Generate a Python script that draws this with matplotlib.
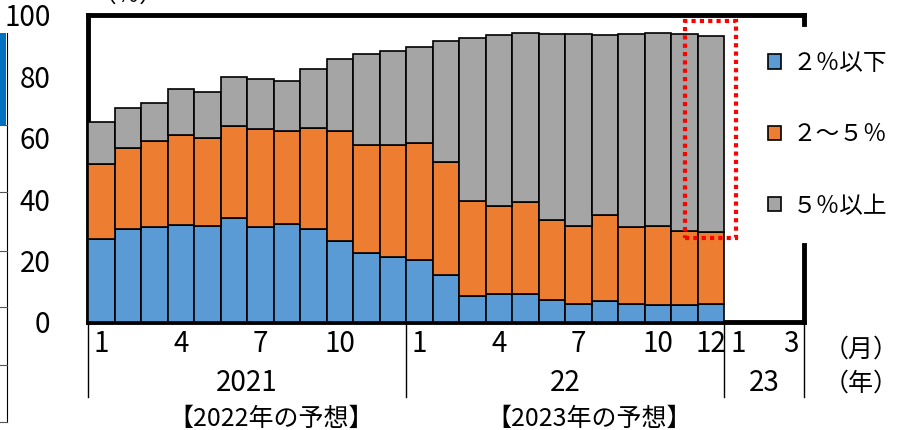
import matplotlib
matplotlib.use('Agg')
import matplotlib.pyplot as plt
import numpy as np
from matplotlib.patches import Patch, Rectangle
from matplotlib.lines import Line2D
import matplotlib.transforms as mtransforms

plt.rcParams['font.family'] = ['Liberation Sans Narrow', 'Noto Sans CJK JP', 'DejaVu Sans']

# 2021/1 - 2022/12 (%)
low_share = [27.0, 30.2, 30.8, 31.6, 31.4, 34.0, 30.8, 31.8, 30.4, 26.4, 22.5, 21.3,
             20.1, 15.2, 8.4, 9.1, 9.1, 7.0, 5.9, 6.8, 5.9, 5.5, 5.5, 5.8]
mid_share = [24.4, 26.6, 28.0, 29.3, 28.5, 29.9, 31.9, 30.5, 32.9, 35.8, 35.1, 36.2,
             38.1, 36.8, 31.1, 28.7, 30.0, 26.2, 25.4, 28.2, 25.1, 25.8, 24.2, 23.5]
high_share = [13.8, 12.8, 12.4, 15.0, 14.9, 15.9, 16.4, 16.2, 19.1, 23.6, 29.8, 30.9,
              31.4, 39.6, 53.1, 55.7, 55.1, 60.7, 62.5, 58.5, 62.8, 62.8, 64.1, 64.0]
series_names = ['２％以下', '２～５％', '５％以上']
colors = ['#5B9BD5', '#ED7D31', '#A5A5A5']

month_labels = ['1', '', '', '4', '', '', '7', '', '', '10', '', '',
                '1', '', '', '4', '', '', '7', '', '', '10', '', '12',
                '1', '', '3']
year_labels = ['2021', '22', '23']
year_lengths = [12, 12, 3]
forecast_labels = ['【2022年の予想】', '【2023年の予想】']

fig = plt.figure(figsize=(9, 4.3), dpi=100)
ax = fig.add_axes([0.0978, 0.2512, 0.7956, 0.714])

x = np.arange(len(low_share))
bottom = np.zeros(len(x))
for vals, c in zip([low_share, mid_share, high_share], colors):
    ax.bar(x, vals, width=1.0, bottom=bottom, color=c, edgecolor='black', linewidth=1.2, zorder=3)
    bottom = bottom + np.array(vals)

ax.set_xlim(-0.5, len(month_labels) - 0.5)
ax.set_ylim(0, 100)
ax.set_yticks([0, 20, 40, 60, 80, 100])
ax.tick_params(axis='y', length=0, pad=27, labelsize=20)
ax.set_xticks(range(len(month_labels)))
ax.set_xticklabels(month_labels)
ax.tick_params(axis='x', length=0, pad=5, labelsize=20)

for s in ['top', 'left', 'bottom']:
    ax.spines[s].set_linewidth(3.5)
ax.spines['right'].set_visible(False)
# right frame is hidden behind the legend
ax.plot([1, 1], [1, 0.972], transform=ax.transAxes, color='black', lw=3.5, clip_on=False, solid_capstyle='projecting')
ax.plot([1, 1], [0.251, 0], transform=ax.transAxes, color='black', lw=3.5, clip_on=False, solid_capstyle='projecting')

# year separators and labels
trans = mtransforms.blended_transform_factory(ax.transData, ax.transAxes)
start = -0.5
seps = [start]
for lab, n in zip(year_labels, year_lengths):
    ax.text(start + n / 2, -0.2, lab, transform=trans, ha='center', va='center', fontsize=20)
    start += n
    seps.append(start)
for s in seps:
    ax.plot([s, s], [0, -0.245], transform=trans, color='black', lw=1.0, clip_on=False)

ax.text(1.08, -0.09, '（月）', transform=ax.transAxes, ha='center', va='center', fontsize=18)
ax.text(1.08, -0.2, '（年）', transform=ax.transAxes, ha='center', va='center', fontsize=18)

ax.text(6.4, -0.315, forecast_labels[0], transform=trans, ha='center', va='center', fontsize=18)
ax.text(18.4, -0.315, forecast_labels[1], transform=trans, ha='center', va='center', fontsize=18)

# red dotted frame around Dec 2022
ax.add_patch(Rectangle((22.0, 27.3), 1.95, 70.7, fill=False, edgecolor='#FF0000', lw=3,
                       linestyle=(0, (1, 1)), clip_on=False, zorder=5))

handles = [Patch(facecolor=c, edgecolor='black', linewidth=1.2) for c in colors]
leg = ax.legend(handles, series_names, loc='center left', bbox_to_anchor=(0.9497, 0.61),
                frameon=False, fontsize=17, handlelength=0.55, handleheight=0.55,
                handletextpad=0.5, labelspacing=2.05, borderaxespad=0, borderpad=0)

ax.text(0.056, 1.065, '（％）', transform=ax.transAxes, ha='center', va='center', fontsize=17)

# remnants of the neighbouring chart on the left edge
fig.patches.append(Rectangle((0, 1 - 125 / 430), 6 / 900, 92 / 430, transform=fig.transFigure,
                             facecolor='#0070C0', edgecolor='none'))
fig.add_artist(Line2D([7 / 900, 7 / 900], [1 - 33 / 430, 1 - 422 / 430], color='black', lw=0.8))
for yy in [125, 192, 251, 307, 365, 422]:
    fig.add_artist(Line2D([0, 7 / 900], [1 - yy / 430, 1 - yy / 430], color='#555555', lw=0.8))

fig.savefig('out.png', dpi=100)
